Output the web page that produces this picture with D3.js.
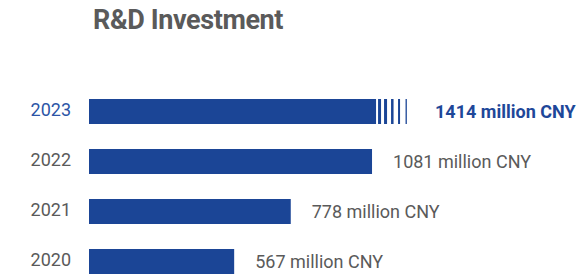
<!DOCTYPE html>
<html>
<head>
<meta charset="utf-8">
<script src="https://cdn.jsdelivr.net/npm/d3@7"></script>
<style>
  body { margin: 0; background: #fff; }
  svg { display: block; font-family: Roboto, "Noto Sans", sans-serif; }
</style>
</head>
<body>
<svg id="chart"></svg>
<script>
const years = ['2023', '2022', '2021', '2020'];
const values = [1414, 1081, 778, 567];
const unit = 'million CNY';
const highlight = '2023';
// the highlighted bar is too long to fit, so it is cut here and faded out with stripes
const breakValue = 1096;

const width = 583;
const height = 277;

const svg = d3.select('#chart')
  .attr('width', width)
  .attr('height', height);

const blue = '#1b4596';
const gray = '#5a5a5a';

// bars all start at the left edge, the scale itself does not start at zero
const left = 89;
const x = d3.scaleLinear()
  .domain([0, 1000])
  .range([82.1, 82.1 + 268.2]);

const y = d3.scalePoint()
  .domain(years)
  .range([109.5, 259.5]);

const barH = 25;

svg.append('text')
  .attr('x', 93)
  .attr('y', 28.5)
  .attr('fill', gray)
  .attr('font-size', 27)
  .attr('font-weight', 700)
  .attr('letter-spacing', -0.4)
  .text('R&D Investment');

const rows = years.map((yr, i) => ({ year: yr, value: values[i] }));

// year labels
svg.selectAll('.year')
  .data(rows)
  .enter()
  .append('text')
    .attr('class', 'year')
    .attr('x', 71)
    .attr('y', (d) => y(d.year))
    .attr('dy', '0.35em')
    .attr('text-anchor', 'end')
    .attr('font-size', 18)
    .attr('fill', (d) => d.year === highlight ? '#2c55a6' : gray)
    .text((d) => d.year);

const barY = (d) => y(d.year) + 2 - barH / 2;
const barEnd = (d) => x(Math.min(d.value, breakValue));

svg.selectAll('.bar')
  .data(rows)
  .enter()
  .append('rect')
    .attr('class', 'bar')
    .attr('x', left)
    .attr('y', barY)
    .attr('width', (d) => barEnd(d) - left)
    .attr('height', barH)
    .attr('fill', blue);

// stripes after the break
const stripes = [[2, 3], [8, 3], [15, 2.5], [22, 2], [29.5, 1.3]];
const broken = rows.filter((d) => d.value > breakValue);

broken.forEach((d) => {
  svg.selectAll(null)
    .data(stripes)
    .enter()
    .append('rect')
      .attr('x', (s) => barEnd(d) + s[0])
      .attr('y', barY(d))
      .attr('width', (s) => s[1])
      .attr('height', barH)
      .attr('fill', blue);
});

// value labels
svg.selectAll('.val')
  .data(rows)
  .enter()
  .append('text')
    .attr('class', 'val')
    .attr('x', (d) => d.value > breakValue ? barEnd(d) + 59 : barEnd(d) + 21)
    .attr('y', (d) => barY(d) + barH / 2)
    .attr('dy', '0.35em')
    .attr('font-size', 18)
    .attr('font-weight', (d) => d.year === highlight ? 700 : 400)
    .attr('fill', (d) => d.year === highlight ? '#1e4799' : gray)
    .text((d) => `${d.value} ${unit}`);
</script>
</body>
</html>
